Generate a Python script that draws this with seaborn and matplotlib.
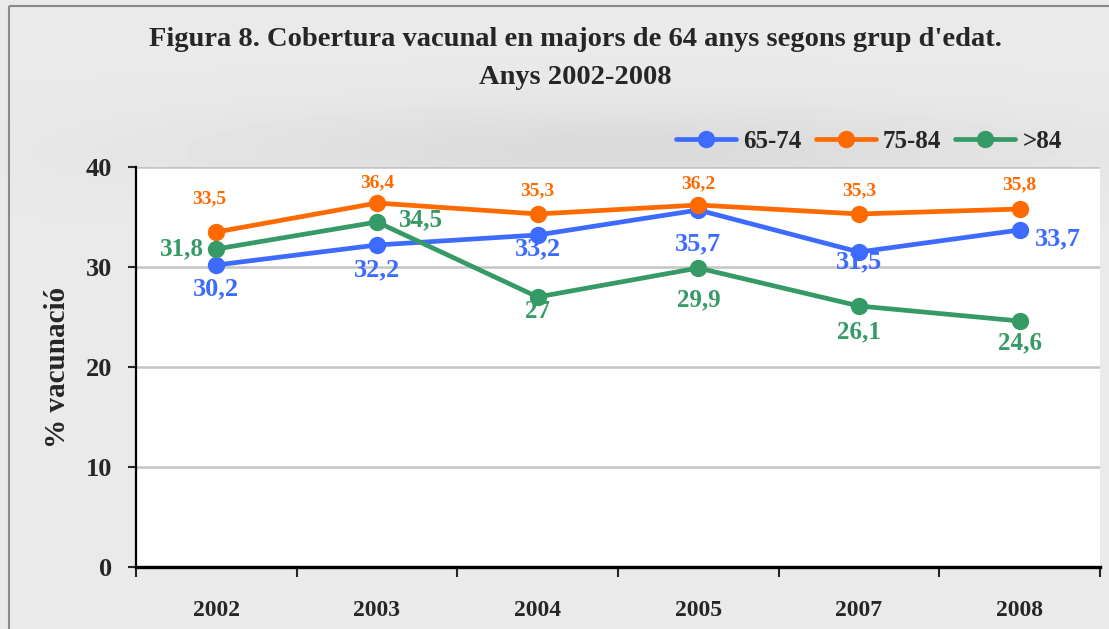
import numpy as np
import pandas as pd
import seaborn as sns
import matplotlib.pyplot as plt
from matplotlib.lines import Line2D
from matplotlib.patches import Rectangle

# data
anys = ["2002", "2003", "2004", "2005", "2007", "2008"]
grups = ["65-74", "75-84", ">84"]
val_65_74 = [30.2, 32.2, 33.2, 35.7, 31.5, 33.7]
val_75_84 = [33.5, 36.4, 35.3, 36.2, 35.3, 35.8]
val_84 = [31.8, 34.5, 27.0, 29.9, 26.1, 24.6]

colors = {"65-74": "#3D6BFF", "75-84": "#FF6A00", ">84": "#359A65"}
serif = "Liberation Serif"

df = pd.DataFrame({
    "Any": anys * 3,
    "Grup": [g for g in grups for _ in anys],
    "Valor": val_65_74 + val_75_84 + val_84,
})

sns.set_style("white")
plt.rcParams["font.family"] = [serif, "DejaVu Serif"]

W, H = 1109, 629
fig = plt.figure(figsize=(W / 100, H / 100), dpi=100)
fig.patch.set_facecolor("#e9e9e9")

# soft shadow behind the title / legend area
bg = fig.add_axes([0, 0, 1, 1], zorder=-5)
yy, xx = np.mgrid[0:H, 0:W]
shade = np.exp(-(((xx - 620) / 420.0) ** 2) - (((yy - 150) / 45.0) ** 2))
bg.imshow(0.915 - 0.06 * shade, cmap="gray", vmin=0, vmax=1, aspect="auto",
          extent=[0, W, H, 0])
bg.set_xlim(0, W)
bg.set_ylim(H, 0)
bg.axis("off")
bg.add_patch(Rectangle((9, 6), W, H, fill=False, edgecolor="#8a8a8a", lw=1.5))

ax = fig.add_axes([136 / W, (H - 567) / H, (1100 - 136) / W, 400 / H])
ax.set_facecolor("white")

sns.lineplot(data=df, x="Any", y="Valor", hue="Grup", hue_order=grups,
             palette=colors, marker="o", markersize=12.5, markeredgewidth=0,
             linewidth=3.4, sort=False, legend=False, ax=ax, zorder=3)
for ln in ax.lines:
    ln.set_clip_on(False)

ax.set_xlim(-0.5, 5.5)
ax.set_ylim(0, 40)
ax.set_yticks([0, 10, 20, 30, 40])
ax.yaxis.grid(True, color="#c4c4c4", lw=1.8)
ax.set_axisbelow(True)

for s in ["top", "right"]:
    ax.spines[s].set_visible(False)
ax.spines["left"].set_color("black")
ax.spines["left"].set_linewidth(1.6)
ax.spines["bottom"].set_color("black")
ax.spines["bottom"].set_linewidth(2.4)

ax.tick_params(axis="y", length=6, width=1.5, pad=11, labelsize=19,
               direction="out", left=True)
for t in ax.get_yticklabels():
    t.set_fontweight("bold")

ax.set_xticks(range(len(anys)))
ax.set_xticklabels(anys)
ax.set_xticks(np.arange(-0.5, len(anys), 1.0), minor=True)
ax.tick_params(axis="x", which="major", length=0, pad=24, labelsize=17)
ax.tick_params(axis="x", which="minor", length=7, width=1.5, direction="out",
               bottom=True)
for t in ax.get_xticklabels():
    t.set_fontweight("bold")

ax.set_xlabel("")
ax.set_ylabel("% vacunació", fontsize=21, fontweight="bold", labelpad=11)

# data labels: offsets in pixels (dx, dy), sizes per series
label_offsets = {
    "65-74": [(0, -24), (0, -25), (0, -14), (0, -34), (0, -10), (38, -9)],
    "75-84": [(-7, 33), (0, 20), (0, 23), (0, 21), (0, 23), (0, 24)],
    ">84": [(-34, 0), (44, 2), (0, -15), (0, -32), (0, -26), (0, -22)],
}
label_sizes = {"65-74": 19, "75-84": 14, ">84": 18}
series = {"65-74": val_65_74, "75-84": val_75_84, ">84": val_84}
for g in grups:
    for i, v in enumerate(series[g]):
        dx, dy = label_offsets[g][i]
        ax.annotate(f"{v:g}".replace(".", ","), (i, v), xytext=(dx, dy),
                    textcoords="offset pixels", ha="center", va="center",
                    color=colors[g], fontsize=label_sizes[g],
                    fontweight="bold", zorder=5, annotation_clip=False)

handles = [Line2D([], [], color=colors[g], lw=3.4, marker="o",
                  markersize=12.5, markeredgewidth=0) for g in grups]
fig.legend(handles, grups, loc="center left", ncol=3, frameon=False,
           bbox_to_anchor=(676 / W, 1 - 141 / H), handlelength=2.4,
           handletextpad=0.3, columnspacing=0.55, borderaxespad=0,
           borderpad=0, prop={"family": serif, "weight": "bold", "size": 18})

fig.text(575 / W, 1 - 40 / H,
         "Figura 8. Cobertura vacunal en majors de 64 anys segons grup d'edat.",
         ha="center", va="center", fontsize=20.5, fontweight="bold")
fig.text(575 / W, 1 - 77 / H, "Anys 2002-2008", ha="center", va="center",
         fontsize=20.5, fontweight="bold")

fig.savefig("out.png", dpi=100, facecolor=fig.get_facecolor())
